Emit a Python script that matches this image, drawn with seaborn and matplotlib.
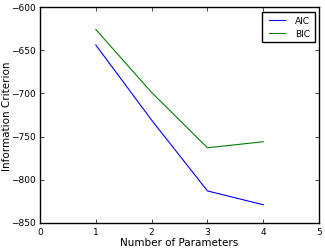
import pandas as pd
import matplotlib
matplotlib.use("Agg")
import matplotlib.pyplot as plt
import seaborn as sns

# values
n_params = [1, 2, 3, 4]
aic = [-644, -731, -813, -829]
bic = [-626, -699, -763, -756]

df = pd.DataFrame({
    "n": n_params * 2,
    "value": aic + bic,
    "criterion": ["AIC"] * 4 + ["BIC"] * 4,
})

plt.style.use("classic")
fig = plt.figure(figsize=(3.25, 2.51), dpi=100, facecolor="white")
ax = fig.add_axes([0.123, 0.108, 0.859, 0.86])

sns.lineplot(data=df, x="n", y="value", hue="criterion",
             palette={"AIC": "blue", "BIC": "green"}, linewidth=0.8, ax=ax)

ax.set_xlim(0, 5)
ax.set_ylim(-850, -600)
ax.set_xlabel("Number of Parameters", fontsize=7.5, labelpad=1)
ax.set_ylabel("Information Criterion", fontsize=7.5)
ax.yaxis.set_label_coords(-0.1, 0.5)
ax.tick_params(labelsize=6.5, pad=3, length=3)
ax.legend(loc="upper right", fontsize=6.5, handlelength=2.4, borderpad=0.5,
          labelspacing=0.4, frameon=True, fancybox=False)

fig.savefig("out.png", dpi=100, facecolor="white")
